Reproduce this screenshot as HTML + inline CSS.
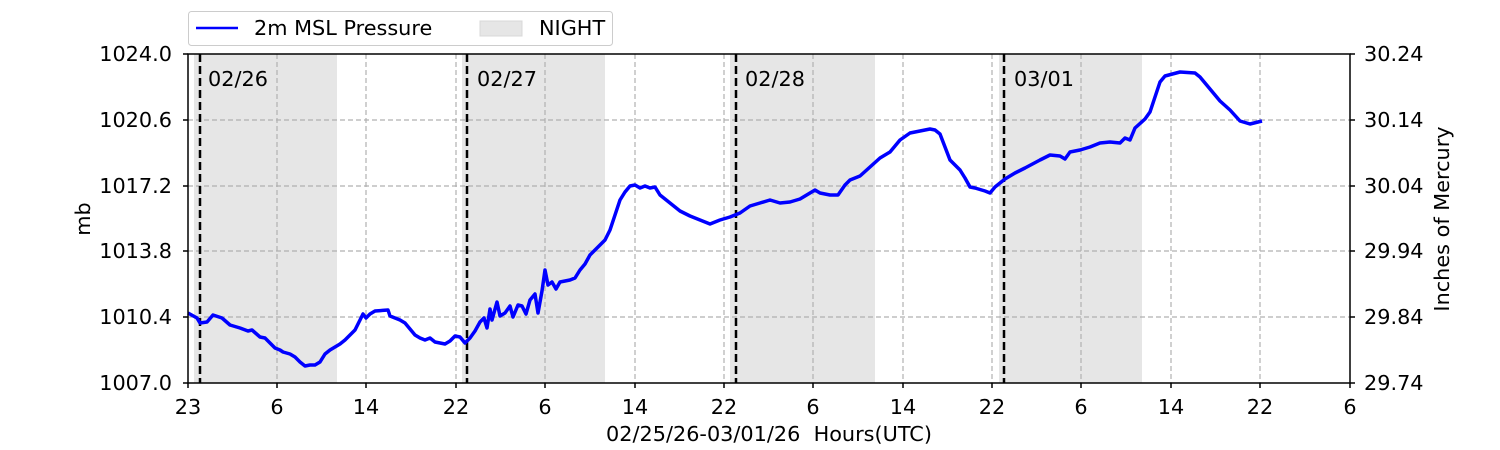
<!DOCTYPE html>
<html><head><style>body{margin:0;background:#fff}svg{display:block}text{font-family:"DejaVu Sans","Liberation Sans",sans-serif;font-size:20.8px;fill:#000}</style></head>
<body>
<svg width="1500" height="450" viewBox="0 0 1500 450">
<g fill="#e6e6e6">
<rect x="194" y="54" width="143" height="329"/>
<rect x="462" y="54" width="143" height="329"/>
<rect x="730" y="54" width="145" height="329"/>
<rect x="999" y="54" width="143" height="329"/>
</g>
<g stroke="#b0b0b0" stroke-width="1.2" stroke-dasharray="5,3" fill="none">
<path d="M277 54V383M366 54V383M456 54V383M545 54V383M635 54V383M724 54V383M813 54V383M903 54V383M992 54V383M1081 54V383M1171 54V383M1260 54V383"/>
<path d="M188 120H1350M188 186H1350M188 251H1350M188 317H1350"/>
</g>
<g stroke="#000" stroke-width="2.5" stroke-dasharray="8,4">
<path d="M200 54V383M467 54V383M736 54V383M1004 54V383"/>
</g>
<g style="fill:#333"><text x="208" y="86">02/26</text><text x="477" y="86">02/27</text><text x="745" y="86">02/28</text><text x="1014" y="86">03/01</text></g>
<polyline fill="none" stroke="#0000ff" stroke-width="3.5" stroke-linejoin="round" points="188,313 197,318 200,323 207,322 213,315 222,318 230,325 240,328 248,331 252,330 260,337 265,338 270,343 275,348 280,350 283,352 290,354 295,357 300,362 305,366 310,365 315,365 320,362 325,354 330,350 335,347 340,344 345,340 350,335 355,330 360,320 363,314 366,318 370,314 375,311 388,310 390,316 395,318 400,320 405,323 410,329 415,335 420,338 425,340 430,338 435,342 440,343 445,344 450,341 455,336 460,337 465,343 470,338 475,331 480,322 484,318 487,328 490,309 492,320 497,302 500,316 505,313 510,306 513,317 518,305 522,306 526,314 530,300 535,294 538,313 542,291 545,270 548,285 552,282 556,289 560,282 565,281 570,280 575,278 580,270 585,264 590,255 595,250 600,245 605,240 610,230 615,215 620,200 625,192 630,186 635,185 640,188 645,186 650,188 655,187 660,195 670,203 680,211 690,216 700,220 710,224 720,220 730,217 740,213 750,206 760,203 770,200 780,203 790,202 800,199 810,193 815,190 820,193 830,195 838,195 845,185 850,180 860,176 870,167 880,158 890,152 900,140 910,133 920,131 930,129 935,130 940,134 950,160 960,170 965,178 970,187 975,188 985,191 990,193 995,187 1005,179 1015,173 1025,168 1040,160 1050,155 1060,156 1065,159 1070,152 1080,150 1090,147 1100,143 1110,142 1120,143 1125,138 1130,140 1135,128 1145,119 1150,112 1155,97 1160,82 1165,76 1180,72 1195,73 1200,77 1210,89 1220,101 1230,110 1240,121 1250,124 1262,121"/>
<rect x="188" y="54" width="1162" height="329" fill="none" stroke="#000" stroke-width="1.5"/>
<g stroke="#000" stroke-width="1.5">
<path d="M188 383v5M277 383v5M366 383v5M456 383v5M545 383v5M635 383v5M724 383v5M813 383v5M903 383v5M992 383v5M1081 383v5M1171 383v5M1260 383v5M1350 383v5"/>
<path d="M183 54h5M183 120h5M183 186h5M183 251h5M183 317h5M183 383h5M1350 54h5M1350 120h5M1350 186h5M1350 251h5M1350 317h5M1350 383h5"/>
</g>
<g text-anchor="middle">
<text x="188" y="414">23</text><text x="277" y="414">6</text><text x="366" y="414">14</text><text x="456" y="414">22</text><text x="545" y="414">6</text><text x="635" y="414">14</text><text x="724" y="414">22</text><text x="813" y="414">6</text><text x="903" y="414">14</text><text x="992" y="414">22</text><text x="1081" y="414">6</text><text x="1171" y="414">14</text><text x="1260" y="414">22</text><text x="1350" y="414">6</text>
<text x="769" y="441">02/25/26-03/01/26&#160;&#160;Hours(UTC)</text>
</g>
<g text-anchor="end">
<text x="172" y="61">1024.0</text><text x="172" y="127">1020.6</text><text x="172" y="193">1017.2</text><text x="172" y="258">1013.8</text><text x="172" y="324">1010.4</text><text x="172" y="390">1007.0</text>
</g>
<g>
<text x="1364" y="61">30.24</text><text x="1364" y="127">30.14</text><text x="1364" y="193">30.04</text><text x="1364" y="258">29.94</text><text x="1364" y="324">29.84</text><text x="1364" y="390">29.74</text>
</g>
<text transform="translate(90,219) rotate(-90)" text-anchor="middle">mb</text>
<text transform="translate(1449,219) rotate(-90)" text-anchor="middle">Inches of Mercury</text>
<rect x="188.5" y="11.5" width="424" height="34" rx="3" fill="#fff" stroke="#ccc"/>
<line x1="196" y1="28" x2="238" y2="28" stroke="#0000ff" stroke-width="2.5"/>
<text x="254" y="35">2m MSL Pressure</text>
<rect x="480" y="21" width="42" height="15" fill="#e6e6e6" stroke="#d8d8d8"/>
<text x="539" y="35">NIGHT</text>
</svg>
</body></html>
